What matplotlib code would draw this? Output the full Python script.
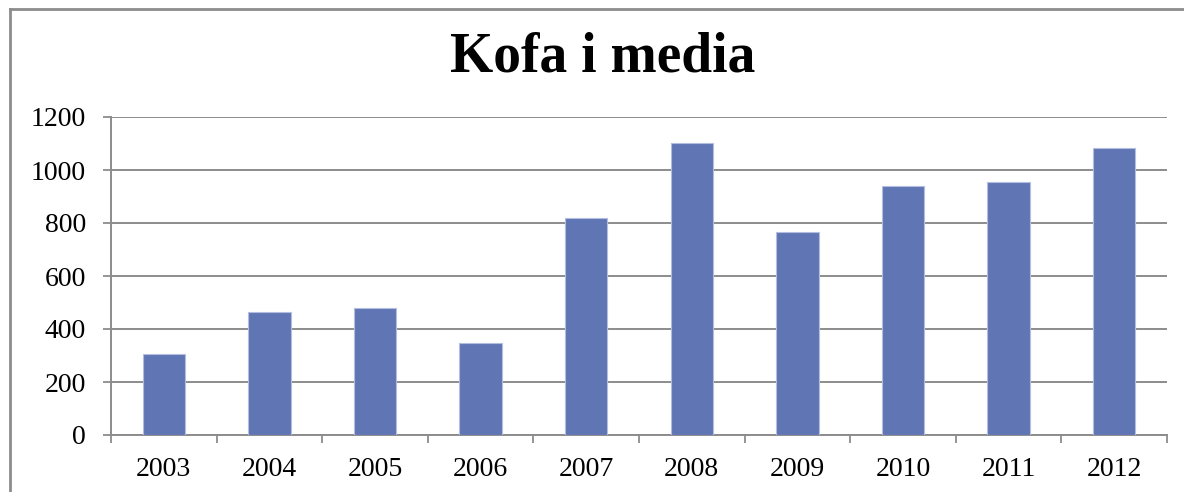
import matplotlib
matplotlib.use("Agg")
import matplotlib.pyplot as plt
from matplotlib.lines import Line2D
import numpy as np

years = ["2003", "2004", "2005", "2006", "2007", "2008", "2009", "2010", "2011", "2012"]
values = [306, 463, 480, 348, 818, 1103, 767, 940, 954, 1083]
y_ticks = [0, 200, 400, 600, 800, 1000, 1200]

W, H = 1184, 492
grey = "#8c8c8c"
bar_color = "#6076b4"

plt.rcParams["font.family"] = ["Liberation Serif", "DejaVu Serif"]

fig = plt.figure(figsize=(W / 100, H / 100), dpi=100)
ax = fig.add_axes([111 / W, 1 - 435 / H, (1167 - 111) / W, (435 - 117) / H])

x = np.arange(len(years))
ax.bar(x, values, width=0.4, color=bar_color, edgecolor="#b3bde0",
       linewidth=0.8, zorder=3)

ax.set_xlim(-0.5, len(years) - 0.5)
ax.set_ylim(0, 1200)
ax.set_yticks(y_ticks)
ax.set_yticklabels([str(v) for v in y_ticks], fontsize=20)
ax.yaxis.grid(True, color=grey, linewidth=1.4, zorder=0)

# category boundaries carry the tick marks, labels sit in the middle
ax.set_xticks(np.arange(-0.5, len(years), 1.0))
ax.set_xticklabels([])
ax.set_xticks(x, minor=True)
ax.set_xticklabels(years, minor=True, fontsize=20)
ax.tick_params(axis="x", which="major", direction="out", length=6,
               width=1.3, color=grey)
ax.tick_params(axis="x", which="minor", length=0, pad=16)
ax.tick_params(axis="y", direction="out", length=6, width=1.3,
               color=grey, pad=12)

for side in ("top", "right"):
    ax.spines[side].set_visible(False)
for side in ("left", "bottom"):
    ax.spines[side].set_color(grey)
    ax.spines[side].set_linewidth(1.4)
ax.set_axisbelow(True)

fig.text(603 / W, 1 - 57 / H, "Kofa i media", ha="center", va="center",
         fontsize=40, fontweight="bold")

# outer chart border (only top and left visible in the crop)
fig.add_artist(Line2D([10 / W, 1.0], [1 - 9 / H, 1 - 9 / H],
                      transform=fig.transFigure, color=grey, linewidth=2))
fig.add_artist(Line2D([10 / W, 10 / W], [1 - 9 / H, 0.0],
                      transform=fig.transFigure, color=grey, linewidth=2))

fig.savefig("out.png", dpi=100)
